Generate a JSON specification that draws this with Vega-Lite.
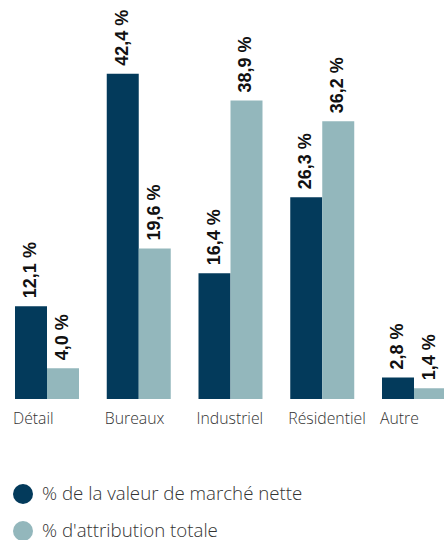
{
  "$schema": "https://vega.github.io/schema/vega-lite/v6.json",
  "width": 444,
  "height": 399,
  "autosize": "none",
  "padding": {"left": 0, "top": 0, "right": 0, "bottom": 141},
  "background": "white",
  "config": {"view": {"stroke": null}},
  "data": {
    "values": [
      {"cat": "Détail", "serie": "% de la valeur de marché nette", "value": 12.1, "label": "12,1 %"},
      {"cat": "Détail", "serie": "% d'attribution totale", "value": 4.0, "label": "4,0 %"},
      {"cat": "Bureaux", "serie": "% de la valeur de marché nette", "value": 42.4, "label": "42,4 %"},
      {"cat": "Bureaux", "serie": "% d'attribution totale", "value": 19.6, "label": "19,6 %"},
      {"cat": "Industriel", "serie": "% de la valeur de marché nette", "value": 16.4, "label": "16,4 %"},
      {"cat": "Industriel", "serie": "% d'attribution totale", "value": 38.9, "label": "38,9 %"},
      {"cat": "Résidentiel", "serie": "% de la valeur de marché nette", "value": 26.3, "label": "26,3 %"},
      {"cat": "Résidentiel", "serie": "% d'attribution totale", "value": 36.2, "label": "36,2 %"},
      {"cat": "Autre", "serie": "% de la valeur de marché nette", "value": 2.8, "label": "2,8 %"},
      {"cat": "Autre", "serie": "% d'attribution totale", "value": 1.4, "label": "1,4 %"}
    ]
  },
  "encoding": {
    "x": {
      "field": "cat",
      "type": "nominal",
      "sort": ["Détail", "Bureaux", "Industriel", "Résidentiel", "Autre"],
      "scale": {"range": [0, 461], "paddingInner": 0.3025, "paddingOuter": 0.1635},
      "axis": {
        "title": null,
        "domain": false,
        "ticks": false,
        "labelAngle": 0,
        "labelAlign": "left",
        "labelBaseline": "top",
        "labelOffset": -34,
        "labelPadding": 12,
        "labelFont": "Open Sans",
        "labelFontWeight": 300,
        "labelFontSize": 15.8,
        "labelColor": "#333333"
      }
    },
    "xOffset": {
      "field": "serie",
      "type": "nominal",
      "sort": ["% de la valeur de marché nette", "% d'attribution totale"]
    },
    "y": {
      "field": "value",
      "type": "quantitative",
      "scale": {"domain": [0, 52]},
      "axis": null
    }
  },
  "layer": [
    {
      "mark": {"type": "bar"},
      "encoding": {
        "color": {
          "field": "serie",
          "type": "nominal",
          "scale": {
            "domain": ["% de la valeur de marché nette", "% d'attribution totale"],
            "range": ["#033a5b", "#93b7bc"]
          },
          "legend": {
            "title": null,
            "orient": "none",
            "legendX": 13,
            "legendY": 484,
            "direction": "vertical",
            "symbolType": "circle",
            "symbolSize": 400,
            "symbolOpacity": 1,
            "symbolStrokeWidth": 0,
            "labelFont": "Open Sans",
            "labelFontWeight": 300,
            "labelFontSize": 18.7,
            "labelColor": "#333333",
            "labelOffset": 9,
            "rowPadding": 17,
            "labelLimit": 400
          }
        }
      }
    },
    {
      "mark": {
        "type": "text",
        "angle": 270,
        "align": "left",
        "baseline": "middle",
        "dx": 8,
        "font": "Liberation Sans",
        "fontWeight": "bold",
        "fontSize": 18,
        "color": "#111111"
      },
      "encoding": {"text": {"field": "label"}}
    }
  ]
}
